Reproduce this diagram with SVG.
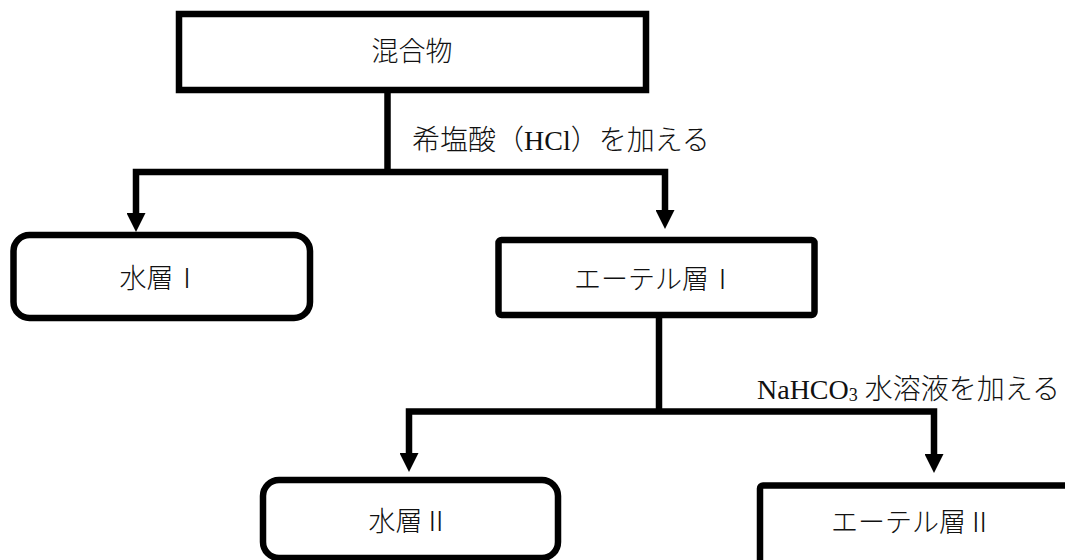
<svg xmlns="http://www.w3.org/2000/svg" width="1065" height="560" viewBox="0 0 1065 560">
<style>
.box{fill:#fff;stroke:#000;stroke-width:6.5}
.t{font-family:"Liberation Serif","Noto Sans CJK JP",serif;font-size:27px;font-weight:300;fill:#111;text-anchor:middle}
.lbl{font-family:"Liberation Serif","Noto Sans CJK JP",serif;font-size:28px;font-weight:300;fill:#111}
.c{fill:none;stroke:#000;stroke-width:6.5;stroke-linejoin:miter}
</style>
<defs>
<marker id="ah" markerUnits="userSpaceOnUse" markerWidth="19" markerHeight="19" refX="0" refY="9.5" orient="auto-start-reverse">
<path d="M0,0 L19,9.5 L0,19 Z" fill="#000"/>
</marker>
</defs>
<rect width="1065" height="560" fill="#fff"/>
<g id="connectors">
<path class="c" d="M387.5,90 V172"/>
<path class="c" d="M136,213 V172 H665 V210" marker-start="url(#ah)" marker-end="url(#ah)"/>
<path class="c" d="M659,315 V411.5"/>
<path class="c" d="M409,453 V411.5 H934 V454" marker-start="url(#ah)" marker-end="url(#ah)"/>
<text class="lbl" x="412" y="150">希塩酸（HCl）を加える</text>
<text class="lbl" x="757" y="399">NaHCO<tspan font-size="18" dy="2">3</tspan><tspan dy="-2"> 水溶液を加える</tspan></text>
</g>
<g id="mixture">
<rect class="box" x="179" y="14" width="467" height="76"/>
<text class="t" x="412" y="61" font-size="28">混合物</text>
</g>
<g id="aq1">
<rect class="box" x="13.5" y="235" width="296.5" height="83" rx="16"/>
<text class="t" x="160" y="288">水層Ⅰ</text>
</g>
<g id="ether1">
<rect class="box" x="498.5" y="240" width="316" height="75" rx="3"/>
<text class="t" x="655" y="289">エーテル層Ⅰ</text>
</g>
<g id="aq2">
<rect class="box" x="263" y="480" width="295" height="78" rx="16"/>
<text class="t" x="409" y="531">水層Ⅱ</text>
</g>
<g id="ether2">
<rect class="box" x="760" y="485.5" width="310" height="90" rx="3"/>
<text class="t" x="912" y="532">エーテル層Ⅱ</text>
</g>
</svg>
